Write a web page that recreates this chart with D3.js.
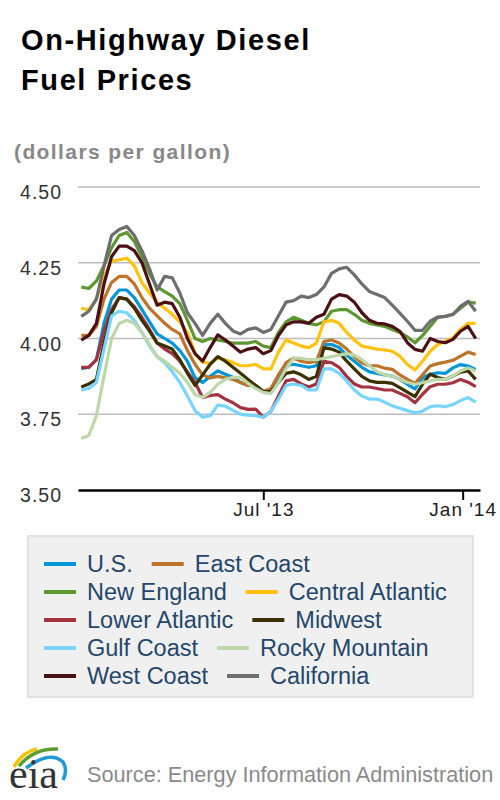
<!DOCTYPE html>
<html>
<head>
<meta charset="utf-8">
<script src="https://cdn.jsdelivr.net/npm/d3@7"></script>
<style>
body { margin: 0; background: #fff; }
text { font-family: "Liberation Sans", Arial, sans-serif; }
</style>
</head>
<body>
<div id="chart"></div>
<script>
// weekly retail prices, Monday Jan 14 2013 .. Monday Jan 13 2014
var weeks = d3.timeMonday.range(new Date(2013, 0, 14), new Date(2014, 0, 14));

var seriesNames = ["U.S.", "East Coast", "New England", "Central Atlantic", "Lower Atlantic",
	"Midwest", "Gulf Coast", "Rocky Mountain", "West Coast", "California"];
var seriesColors = ["#0096d7", "#bd732a", "#5d9732", "#ffc20e", "#a33340",
	"#3b3000", "#76d4ff", "#bed7a8", "#4b1014", "#6e6e6e"];

var us = [3.900, 3.905, 3.930, 4.050, 4.130, 4.160, 4.160, 4.135, 4.095, 4.055,
	4.015, 4.000, 3.985, 3.960, 3.925, 3.870, 3.855, 3.875, 3.893, 3.882,
	3.872, 3.855, 3.845, 3.845, 3.825, 3.830, 3.870, 3.910, 3.915, 3.910,
	3.905, 3.910, 3.980, 3.980, 3.970, 3.945, 3.925, 3.905, 3.890, 3.885,
	3.880, 3.876, 3.865, 3.849, 3.834, 3.870, 3.882, 3.887, 3.885, 3.903,
	3.914, 3.909, 3.898];
var eastCoast = [4.010, 4.010, 4.040, 4.130, 4.185, 4.205, 4.205, 4.180, 4.135, 4.100,
	4.075, 4.050, 4.030, 4.015, 3.960, 3.915, 3.880, 3.870, 3.875, 3.870,
	3.865, 3.855, 3.845, 3.845, 3.825, 3.835, 3.880, 3.920, 3.935, 3.925,
	3.920, 3.925, 3.990, 3.995, 3.985, 3.965, 3.940, 3.920, 3.910, 3.910,
	3.902, 3.898, 3.880, 3.865, 3.852, 3.880, 3.909, 3.917, 3.922, 3.928,
	3.942, 3.955, 3.947];
var newEngland = [4.170, 4.165, 4.190, 4.240, 4.300, 4.340, 4.350, 4.320, 4.270, 4.215,
	4.170, 4.155, 4.140, 4.115, 4.060, 4.000, 3.990, 4.000, 3.995, 3.990,
	3.985, 3.985, 3.985, 3.990, 3.975, 3.970, 4.020, 4.055, 4.070, 4.060,
	4.050, 4.045, 4.055, 4.090, 4.095, 4.095, 4.080, 4.060, 4.050, 4.045,
	4.040, 4.030, 4.020, 4.005, 3.986, 4.010, 4.040, 4.070, 4.073, 4.080,
	4.100, 4.120, 4.117];
var centralAtlantic = [4.100, 4.095, 4.130, 4.205, 4.255, 4.260, 4.265, 4.240, 4.185, 4.150,
	4.120, 4.100, 4.080, 4.055, 4.020, 3.950, 3.922, 3.918, 3.935, 3.930,
	3.920, 3.910, 3.910, 3.915, 3.900, 3.900, 3.955, 3.995, 3.985, 3.975,
	3.970, 3.985, 4.055, 4.060, 4.050, 4.020, 3.995, 3.975, 3.970, 3.965,
	3.962, 3.958, 3.942, 3.914, 3.896, 3.925, 3.958, 3.980, 3.991, 4.002,
	4.030, 4.050, 4.050];
var lowerAtlantic = [3.905, 3.905, 3.930, 4.025, 4.095, 4.135, 4.130, 4.105, 4.070, 4.030,
	3.985, 3.965, 3.950, 3.925, 3.890, 3.855, 3.805, 3.812, 3.815, 3.800,
	3.788, 3.772, 3.766, 3.767, 3.740, 3.760, 3.810, 3.860, 3.865, 3.850,
	3.840, 3.850, 3.925, 3.920, 3.905, 3.875, 3.850, 3.840, 3.840, 3.835,
	3.830, 3.830, 3.819, 3.808, 3.788, 3.816, 3.841, 3.849, 3.849, 3.854,
	3.865, 3.856, 3.841];
var midwest = [3.840, 3.850, 3.865, 3.985, 4.085, 4.135, 4.130, 4.100, 4.060, 4.025,
	3.985, 3.975, 3.965, 3.930, 3.885, 3.845, 3.880, 3.915, 3.940, 3.925,
	3.905, 3.885, 3.865, 3.845, 3.825, 3.825, 3.855, 3.885, 3.890, 3.880,
	3.865, 3.875, 3.970, 3.965, 3.955, 3.925, 3.900, 3.875, 3.860, 3.855,
	3.855, 3.852, 3.838, 3.823, 3.808, 3.849, 3.882, 3.871, 3.865, 3.876,
	3.889, 3.893, 3.865];
var gulfCoast = [3.830, 3.835, 3.855, 3.965, 4.075, 4.090, 4.085, 4.060, 4.020, 3.975,
	3.940, 3.920, 3.890, 3.855, 3.810, 3.762, 3.740, 3.745, 3.780, 3.777,
	3.763, 3.750, 3.747, 3.745, 3.740, 3.760, 3.800, 3.845, 3.850, 3.845,
	3.830, 3.830, 3.900, 3.900, 3.885, 3.860, 3.830, 3.810, 3.800, 3.800,
	3.790, 3.778, 3.770, 3.762, 3.755, 3.760, 3.775, 3.778, 3.775, 3.782,
	3.795, 3.805, 3.790];
var rockyMountain = [3.670, 3.680, 3.745, 3.875, 4.000, 4.050, 4.060, 4.050, 4.020, 3.980,
	3.940, 3.925, 3.905, 3.885, 3.855, 3.815, 3.805, 3.822, 3.849, 3.865,
	3.872, 3.872, 3.852, 3.835, 3.822, 3.818, 3.855, 3.900, 3.935, 3.935,
	3.930, 3.930, 3.935, 3.940, 3.945, 3.950, 3.945, 3.930, 3.910, 3.890,
	3.880, 3.876, 3.865, 3.855, 3.849, 3.854, 3.860, 3.865, 3.865, 3.876,
	3.893, 3.903, 3.893];
var westCoast = [3.995, 4.010, 4.050, 4.180, 4.270, 4.305, 4.305, 4.290, 4.250, 4.180,
	4.110, 4.120, 4.115, 4.070, 4.000, 3.950, 3.925, 3.970, 4.012, 3.995,
	3.975, 3.955, 3.965, 3.970, 3.950, 3.960, 4.010, 4.045, 4.055, 4.055,
	4.050, 4.070, 4.080, 4.130, 4.145, 4.140, 4.120, 4.085, 4.060, 4.050,
	4.048, 4.040, 4.024, 3.986, 3.964, 3.958, 4.000, 3.990, 3.986, 3.997,
	4.024, 4.040, 4.000];
var california = [4.073, 4.090, 4.130, 4.240, 4.340, 4.360, 4.370, 4.340, 4.290, 4.230,
	4.160, 4.205, 4.200, 4.150, 4.085, 4.050, 4.010, 4.050, 4.080, 4.050,
	4.025, 4.015, 4.030, 4.035, 4.020, 4.030, 4.075, 4.120, 4.125, 4.140,
	4.135, 4.145, 4.170, 4.215, 4.230, 4.235, 4.210, 4.180, 4.155, 4.145,
	4.135, 4.110, 4.084, 4.057, 4.027, 4.027, 4.057, 4.071, 4.073, 4.079,
	4.106, 4.123, 4.090];

var seriesValues = [us, eastCoast, newEngland, centralAtlantic, lowerAtlantic,
	midwest, gulfCoast, rockyMountain, westCoast, california];

var yTicks = [3.50, 3.75, 4.00, 4.25, 4.50];
var xTicks = [new Date(2013, 6, 1), new Date(2014, 0, 1)];

var svg = d3.select("#chart")
	.append("svg")
	.attr("width", 500)
	.attr("height", 800);

// titles
svg.append("text").attr("x", 21).attr("y", 50)
	.style("font-size", "29px").style("font-weight", "bold").style("letter-spacing", "1.6px")
	.text("On-Highway Diesel");
svg.append("text").attr("x", 21).attr("y", 90)
	.style("font-size", "29px").style("font-weight", "bold").style("letter-spacing", "1.6px")
	.text("Fuel Prices");
svg.append("text").attr("x", 14).attr("y", 159)
	.style("font-size", "21px").style("font-weight", "bold").style("letter-spacing", "1.4px")
	.style("fill", "#888")
	.text("(dollars per gallon)");

var x = d3.scaleTime()
	.domain([new Date(2013, 0, 11), new Date(2014, 0, 17)])
	.range([78, 480]);
var y = d3.scaleLinear()
	.domain([3.5, 4.5])
	.range([490, 187]);

// horizontal grid
svg.append("g").selectAll("line")
	.data(yTicks.slice(1))
	.enter().append("line")
	.attr("x1", 78).attr("x2", 480)
	.attr("y1", function(d) { return y(d); })
	.attr("y2", function(d) { return y(d); })
	.style("stroke", "#bdbdbd")
	.style("stroke-width", 1.5);

// y axis labels
var yAxis = svg.append("g")
	.attr("transform", "translate(62,0)")
	.call(d3.axisLeft(y).tickValues(yTicks).tickSize(0).tickPadding(0).tickFormat(d3.format(".2f")));
yAxis.select(".domain").remove();
yAxis.selectAll("text")
	.attr("dy", "0.6em")
	.style("font-size", "19.5px")
	.style("letter-spacing", "1px")
	.style("fill", "#333")
	.style("font-family", "'Liberation Sans', Arial, sans-serif");

// lines
var line = d3.line()
	.x(function(d, i) { return x(weeks[i]); })
	.y(function(d) { return y(d); });

svg.append("g").selectAll("path")
	.data(seriesValues)
	.enter().append("path")
	.attr("d", function(d) { return line(d); })
	.style("fill", "none")
	.style("stroke", function(d, i) { return seriesColors[i]; })
	.style("stroke-width", 3.2)
	.style("stroke-linejoin", "round");

// x axis
var xAxis = svg.append("g")
	.attr("transform", "translate(0,490)")
	.call(d3.axisBottom(x).tickValues(xTicks).tickSize(10).tickSizeOuter(0)
		.tickFormat(d3.timeFormat("%b '%y")));
xAxis.select(".domain").style("stroke", "#000").style("stroke-width", 2.5);
xAxis.selectAll(".tick line").style("stroke", "#000").style("stroke-width", 2);
xAxis.selectAll("text")
	.style("font-size", "19px")
	.style("letter-spacing", "1px")
	.style("fill", "#222")
	.style("font-family", "'Liberation Sans', Arial, sans-serif");

// legend
var legend = svg.append("g");
legend.append("rect")
	.attr("x", 28).attr("y", 536)
	.attr("width", 445).attr("height", 161)
	.style("fill", "#f0f0f0")
	.style("stroke", "#e2e2e2")
	.style("stroke-width", 2);

var nextX = 44;
seriesNames.forEach(function(name, i) {
	var row = Math.floor(i / 2);
	var cy = 564 + row * 28;
	var sx = (i % 2 == 0) ? 44 : nextX;
	legend.append("line")
		.attr("x1", sx).attr("x2", sx + 32)
		.attr("y1", cy).attr("y2", cy)
		.style("stroke", seriesColors[i])
		.style("stroke-width", 4);
	var t = legend.append("text")
		.attr("x", sx + 43).attr("y", cy + 8)
		.style("font-size", "23.5px")
		.style("fill", "#24476b")
		.text(name);
	nextX = sx + 43 + t.node().getComputedTextLength() + 19;
});

// eia logo
var logo = svg.append("g");
logo.append("path").attr("d", "M14,767 Q22,752 37,749")
	.style("fill", "none").style("stroke", "#f5c400").style("stroke-width", 3.5);
logo.append("path").attr("d", "M19,766 Q34,748 58,749")
	.style("fill", "none").style("stroke", "#5c9d33").style("stroke-width", 3.5);
logo.append("path").attr("d", "M26,768 Q50,750 63,762 Q68,770 63,780")
	.style("fill", "none").style("stroke", "#1e9ad6").style("stroke-width", 3.5);
logo.append("text").attr("x", 9).attr("y", 788)
	.style("font-family", "'Liberation Serif', 'DejaVu Serif', serif")
	.style("font-size", "42px")
	.style("fill", "#333")
	.text("eia");

svg.append("text").attr("x", 87).attr("y", 782)
	.style("font-size", "21.7px")
	.style("fill", "#8a8a8a")
	.text("Source: Energy Information Administration");
</script>
</body>
</html>
